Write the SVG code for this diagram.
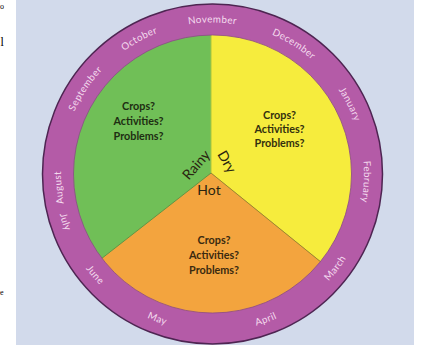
<svg xmlns="http://www.w3.org/2000/svg" width="432" height="350" viewBox="0 0 432 350">
<style>
.mon{font-family:Lato,"Liberation Sans",sans-serif;font-size:9.8px;fill:#f4dcef;letter-spacing:0.4px}
.q{font-family:Lato,"Liberation Sans",sans-serif;font-size:10.8px;font-weight:bold;text-anchor:middle}
.season{font-family:Lato,"Liberation Sans",sans-serif;font-size:14px;fill:#2a2410;text-anchor:middle}
.frag{font-family:"Liberation Serif",serif;fill:#000000}
.div{stroke-width:1;fill:none}
</style>
<defs>
<path id="cw" d="M212.5,325.5 A151.5,151.5 0 0,1 212.5,22.5 A151.5,151.5 0 0,1 212.5,325.5"/>
<path id="ccw" d="M212.5,16 A158,158 0 0,0 212.5,332 A158,158 0 0,0 212.5,16"/>
</defs>
<rect width="432" height="350" fill="#ffffff"/>
<g id="fragments">
<text class="frag" x="0" y="9" font-size="8">o</text>
<text class="frag" x="0.5" y="46" font-size="12">l</text>
<text class="frag" x="0" y="295" font-size="8">e</text>
</g>
<rect id="panel" x="16" y="0" width="398" height="345" fill="#d2daeb"/>
<g id="ring">
<circle cx="212.5" cy="174" r="170" fill="#b45ba7" stroke="#4e2552" stroke-width="1.5"/>
</g>
<g id="rainy-sector">
<path d="M211,173 L101.9,258.3 A139,139 0 0,1 211,35 Z" fill="#70bf57"/>
<text class="q" fill="#1e2e12"><tspan x="138.5" y="110">Crops?</tspan><tspan x="138.5" y="125">Activities?</tspan><tspan x="138.5" y="140">Problems?</tspan></text>
<text class="season" transform="translate(196.5,165) rotate(-49)" x="0" y="4.5">Rainy</text>
</g>
<g id="dry-sector">
<path d="M211,173 L211,35 A139,139 0 0,1 320.4,261.6 Z" fill="#f6ec3d"/>
<text class="q" fill="#33300e"><tspan x="279.5" y="119">Crops?</tspan><tspan x="279.5" y="133">Activities?</tspan><tspan x="279.5" y="147">Problems?</tspan></text>
<text class="season" transform="translate(226.5,162) rotate(60)" x="0" y="4.5">Dry</text>
</g>
<g id="hot-sector">
<path d="M211,173 L320.4,261.6 A139,139 0 0,1 101.9,258.3 Z" fill="#f3a43e"/>
<text class="q" fill="#3a2a10"><tspan x="214" y="244">Crops?</tspan><tspan x="214" y="259">Activities?</tspan><tspan x="214" y="274">Problems?</tspan></text>
<text class="season" x="209" y="195">Hot</text>
</g>
<g id="dividers">
<line class="div" x1="211" y1="35" x2="211" y2="173" stroke="#a9c43e"/>
<line class="div" x1="211" y1="173" x2="320.4" y2="261.6" stroke="#9a8a2a"/>
<line class="div" x1="211" y1="173" x2="101.9" y2="258.3" stroke="#5f9a40"/>
<circle cx="212.5" cy="174" r="139" fill="none" stroke="#8a4a86" stroke-width="0.8"/>
</g>
<g id="months">
<text class="mon" text-anchor="middle"><textPath href="#cw" startOffset="23.6%">August</textPath></text>
<text class="mon" text-anchor="middle"><textPath href="#cw" startOffset="34.4%">September</textPath></text>
<text class="mon" text-anchor="middle"><textPath href="#cw" startOffset="42.1%">October</textPath></text>
<text class="mon" text-anchor="middle"><textPath href="#cw" startOffset="50%">November</textPath></text>
<text class="mon" text-anchor="middle"><textPath href="#cw" startOffset="58.9%">December</textPath></text>
<text class="mon" text-anchor="middle"><textPath href="#cw" startOffset="67.5%">January</textPath></text>
<text class="mon" text-anchor="middle"><textPath href="#cw" startOffset="75.8%">February</textPath></text>
<text class="mon" text-anchor="middle"><textPath href="#ccw" startOffset="64.6%">March</textPath></text>
<text class="mon" text-anchor="middle"><textPath href="#ccw" startOffset="55.6%">April</textPath></text>
<text class="mon" text-anchor="middle"><textPath href="#ccw" startOffset="44.2%">May</textPath></text>
<text class="mon" text-anchor="middle"><textPath href="#ccw" startOffset="36.3%">June</textPath></text>
<text class="mon" text-anchor="middle"><textPath href="#ccw" startOffset="30%">July</textPath></text>
</g>
</svg>
